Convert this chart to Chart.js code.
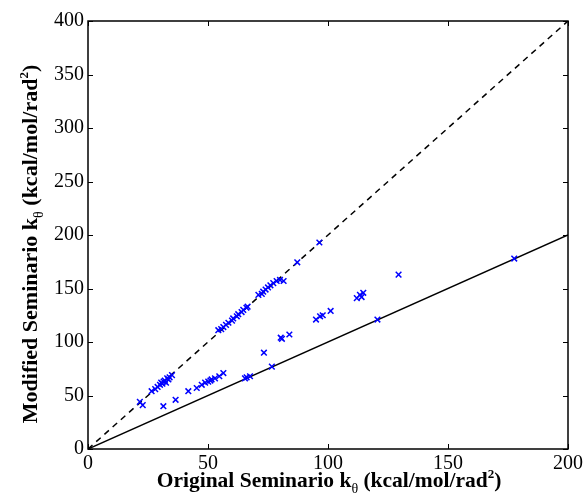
<!DOCTYPE html>
<html>
<head>
<meta charset="utf-8">
<script src="https://cdn.jsdelivr.net/npm/chart.js@4/dist/chart.umd.min.js"></script>
<style>
  html, body { margin: 0; padding: 0; background: #fff; }
  #wrap { width: 587px; height: 499px; }
</style>
</head>
<body>
<div id="wrap"><canvas id="scatterChart" width="587" height="499"></canvas></div>
<script>
// original vs modified Seminario force constants
var origK = [21.6, 26.5, 28, 29, 30, 30.5, 31, 31.5, 32, 32.5, 33, 33.5, 34, 35,
    54.3, 55.5, 56.4, 57.5, 58.5, 60, 60.5, 62, 62.6, 64, 64.7, 66, 66.5,
    71, 72.4, 73, 74, 75, 76, 77.2, 78.6, 80, 81.5, 87.2, 96.4,
    22.8, 31.4, 36.5, 41.8, 45.3, 47.4, 48.8, 50.1, 51, 51.5, 52.9, 54.7, 56.4,
    65.4, 66.1, 67.5, 73.3, 76.6, 80.3, 80.8, 83.9, 95, 96.7, 97.8, 101.1,
    112, 113.3, 114, 114.7, 120.6, 129.4, 177.6];
var modK = [44, 54, 56, 58, 60, 62, 61, 63, 64, 62, 66, 65, 67, 69,
    111, 112, 114, 116, 118, 120, 122, 124, 126, 128, 130, 132, 133,
    144, 145, 147, 149, 151, 153, 155, 157, 158, 157, 174.5, 193,
    41, 40, 46, 54, 57, 60, 62, 63, 64, 65, 66, 68, 71,
    66, 67, 68, 90, 77, 104, 103, 107, 121, 124, 125, 129,
    141, 144, 142, 146, 121, 163, 178];
var lineX = [0, 200];
var doubleY = [0, 400];
var equalY = [0, 200];
var xTicks = [0, 50, 100, 150, 200];
var yTicks = [0, 50, 100, 150, 200, 250, 300, 350, 400];

var serif = "'Liberation Serif', 'DejaVu Serif', serif";

function pts(xs, ys) {
    return xs.map(function (x, i) { return {x: x, y: ys[i]}; });
}

// frame, inward ticks and axis titles with sub/superscripts
var framePlugin = {
    id: 'frame',
    afterDraw: function (chart) {
        var c = chart.ctx, a = chart.chartArea;
        var xs = chart.scales.x, ys = chart.scales.y;
        c.save();
        c.strokeStyle = '#000';
        c.lineWidth = 1.5;
        c.strokeRect(a.left, a.top, a.right - a.left, a.bottom - a.top);
        c.lineWidth = 1;
        c.beginPath();
        xTicks.forEach(function (v) {
            var p = Math.round(xs.getPixelForValue(v)) + 0.5;
            c.moveTo(p, a.bottom); c.lineTo(p, a.bottom - 5);
            c.moveTo(p, a.top); c.lineTo(p, a.top + 5);
        });
        yTicks.forEach(function (v) {
            var p = Math.round(ys.getPixelForValue(v)) + 0.5;
            c.moveTo(a.left, p); c.lineTo(a.left + 5, p);
            c.moveTo(a.right, p); c.lineTo(a.right - 5, p);
        });
        c.stroke();

        function title(parts, cx, cy, rot) {
            c.save();
            c.translate(cx, cy);
            c.rotate(rot);
            c.fillStyle = '#000';
            c.textBaseline = 'alphabetic';
            var w = 0;
            parts.forEach(function (p) {
                c.font = (p[3] ? '' : 'bold ') + p[1] + 'px ' + serif;
                p.w = c.measureText(p[0]).width;
                w += p.w;
            });
            var x = -w / 2;
            parts.forEach(function (p) {
                c.font = (p[3] ? '' : 'bold ') + p[1] + 'px ' + serif;
                c.fillText(p[0], x, p[2]);
                x += p.w;
            });
            c.restore();
        }
        title([['Original Seminario k', 21.5, 0], ['\u03b8', 14, 6, true], [' (kcal/mol/rad', 21.5, 0], ['2', 13, -9], [')', 21.5, 0]],
            329, 487, 0);
        title([['Modified Seminario k', 22, 0], ['\u03b8', 14, 6, true], [' (kcal/mol/rad', 22, 0], ['2', 13, -9], [')', 22, 0]],
            37, 244, -Math.PI / 2);
        c.restore();
    }
};

var ctx = document.getElementById('scatterChart').getContext('2d');
new Chart(ctx, {
    type: 'scatter',
    data: {
        datasets: [
            {
                label: 'Seminario',
                data: pts(origK, modK),
                pointStyle: 'crossRot',
                pointRadius: 4,
                borderColor: '#0000ff',
                borderWidth: 1.5,
                order: 1
            },
            {
                label: 'y = 2x',
                type: 'line',
                data: pts(lineX, doubleY),
                borderColor: '#000',
                borderWidth: 1.5,
                borderDash: [6, 5],
                pointRadius: 0,
                order: 2
            },
            {
                label: 'y = x',
                type: 'line',
                data: pts(lineX, equalY),
                borderColor: '#000',
                borderWidth: 1.5,
                pointRadius: 0,
                order: 2
            }
        ]
    },
    options: {
        responsive: false,
        animation: false,
        layout: {padding: {top: 21, right: 19, left: 0, bottom: 0}},
        plugins: {legend: {display: false}, tooltip: {enabled: false}},
        scales: {
            x: {
                type: 'linear', min: 0, max: 200,
                grid: {display: false, drawTicks: false},
                border: {display: false},
                afterFit: function (s) { s.height = 50; },
                ticks: {stepSize: 50, padding: 3, color: '#000', font: {family: serif, size: 20}}
            },
            y: {
                type: 'linear', min: 0, max: 400,
                grid: {display: false, drawTicks: false},
                border: {display: false},
                afterFit: function (s) { s.width = 88; },
                ticks: {stepSize: 50, padding: 4, color: '#000', font: {family: serif, size: 20}}
            }
        }
    },
    plugins: [framePlugin]
});
</script>
</body>
</html>
